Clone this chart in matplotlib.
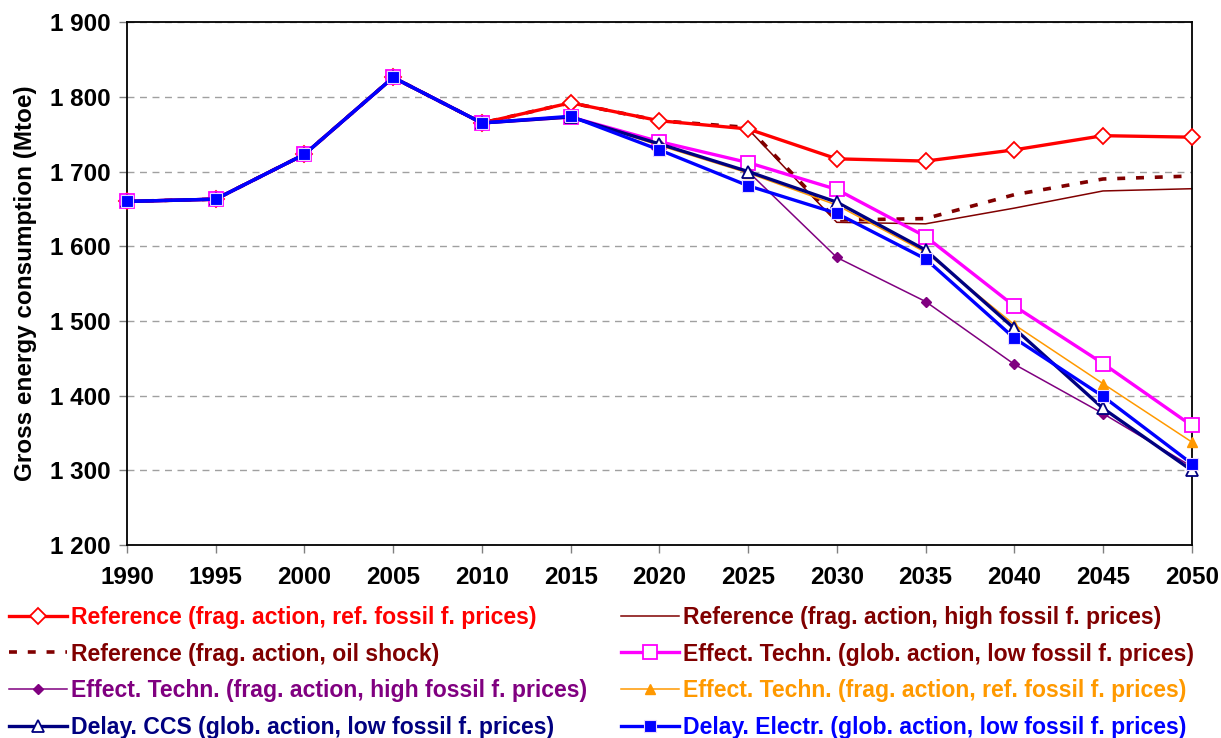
import matplotlib
matplotlib.use("Agg")
import matplotlib.pyplot as plt
from matplotlib.ticker import FuncFormatter

plt.rcParams['font.family'] = ['Liberation Sans', 'DejaVu Sans']
plt.rcParams['font.weight'] = 'bold'

years = [1990, 1995, 2000, 2005, 2010, 2015, 2020, 2025, 2030, 2035, 2040, 2045, 2050]
history = [1660, 1663, 1723, 1826, 1765]

ref_ref = history + [1792, 1768, 1757, 1717, 1714, 1729, 1748, 1746]
ref_high = history + [1792, 1768, 1757, 1632, 1630, 1651, 1674, 1677]
ref_oil = history + [1792, 1768, 1759, 1635, 1637, 1669, 1690, 1694]
eff_glob_low = history + [1773, 1740, 1712, 1676, 1613, 1520, 1443, 1360]
eff_frag_high = history + [1773, 1737, 1700, 1585, 1526, 1442, 1376, 1305]
eff_frag_ref = history + [1773, 1735, 1698, 1655, 1592, 1495, 1416, 1338]
delay_ccs = history + [1773, 1737, 1700, 1659, 1595, 1490, 1383, 1300]
delay_elec = history + [1774, 1729, 1681, 1644, 1583, 1477, 1399, 1309]

labels = [
    "Reference (frag. action, ref. fossil f. prices)",
    "Reference (frag. action, oil shock)",
    "Effect. Techn. (frag. action, high fossil f. prices)",
    "Delay. CCS (glob. action, low fossil f. prices)",
    "Reference (frag. action, high fossil f. prices)",
    "Effect. Techn. (glob. action, low fossil f. prices)",
    "Effect. Techn. (frag. action, ref. fossil f. prices)",
    "Delay. Electr. (glob. action, low fossil f. prices)",
]
text_colors = ["#FF0000", "#800000", "#800080", "#000080",
               "#800000", "#800000", "#FF9900", "#0000FF"]

fig = plt.figure(figsize=(12.21, 7.38), dpi=100)
ax = fig.add_axes([0.104, 0.2615, 0.872, 0.7085])

h = {}
h[0], = ax.plot(years, ref_ref, color="#FF0000", lw=2.4, marker="D", ms=8.5,
                mfc="white", mec="#FF0000", mew=1.3, zorder=3)
h[4], = ax.plot(years, ref_high, color="#800000", lw=1.1, zorder=2)
h[1], = ax.plot(years, ref_oil, color="#800000", lw=2.6, ls=(0, (2.2, 3.0)), zorder=2)
h[5], = ax.plot(years, eff_glob_low, color="#FF00FF", lw=2.4, marker="s", ms=10,
                mfc="white", mec="#FF00FF", mew=1.3, zorder=3)
h[2], = ax.plot(years, eff_frag_high, color="#800080", lw=1.1, marker="D", ms=5,
                mfc="#800080", mec="#800080", zorder=3)
h[6], = ax.plot(years, eff_frag_ref, color="#FF9900", lw=1.1, marker="^", ms=7,
                mfc="#FF9900", mec="#FF9900", zorder=3)
h[3], = ax.plot(years, delay_ccs, color="#000080", lw=2.4, marker="^", ms=9,
                mfc="white", mec="#000080", mew=1.3, zorder=4)
h[7], = ax.plot(years, delay_elec, color="#0000FF", lw=2.4, marker="s", ms=9,
                mfc="#0000FF", mec="#E8D8FF", mew=0.8, zorder=5)

ax.set_xlim(1990, 2050)
ax.set_ylim(1200, 1900)
ax.set_xticks(years)
ax.set_yticks(range(1200, 1901, 100))
ax.yaxis.set_major_formatter(FuncFormatter(lambda v, p: f"{int(v):,}".replace(",", " ")))
ax.tick_params(axis="both", direction="out", length=6, width=1, color="#808080",
               labelsize=17.5, pad=6)
ax.tick_params(axis="x", pad=9)
for lab in ax.get_xticklabels() + ax.get_yticklabels():
    lab.set_fontweight("bold")
ax.yaxis.grid(True, ls=(0, (5, 4)), color="#A0A0A0", lw=1)
ax.set_axisbelow(True)
for s in ax.spines.values():
    s.set_color("black")
    s.set_linewidth(1.3)
for c in ax.get_lines():
    c.set_clip_on(False)

ax.set_ylabel("Gross energy consumption (Mtoe)", fontsize=17.5, fontweight="bold", labelpad=9)

leg = fig.legend([h[i] for i in range(8)], labels, ncol=2, loc="upper left",
                 bbox_to_anchor=(0.0074, 0.179), frameon=False, fontsize=16.6,
                 handlelength=2.5, handletextpad=0.17, columnspacing=1.5,
                 labelspacing=0.59, borderaxespad=0, borderpad=0)
for t, c in zip(leg.get_texts(), text_colors):
    t.set_color(c)
    t.set_fontweight("bold")

fig.savefig("out.png", dpi=100)
